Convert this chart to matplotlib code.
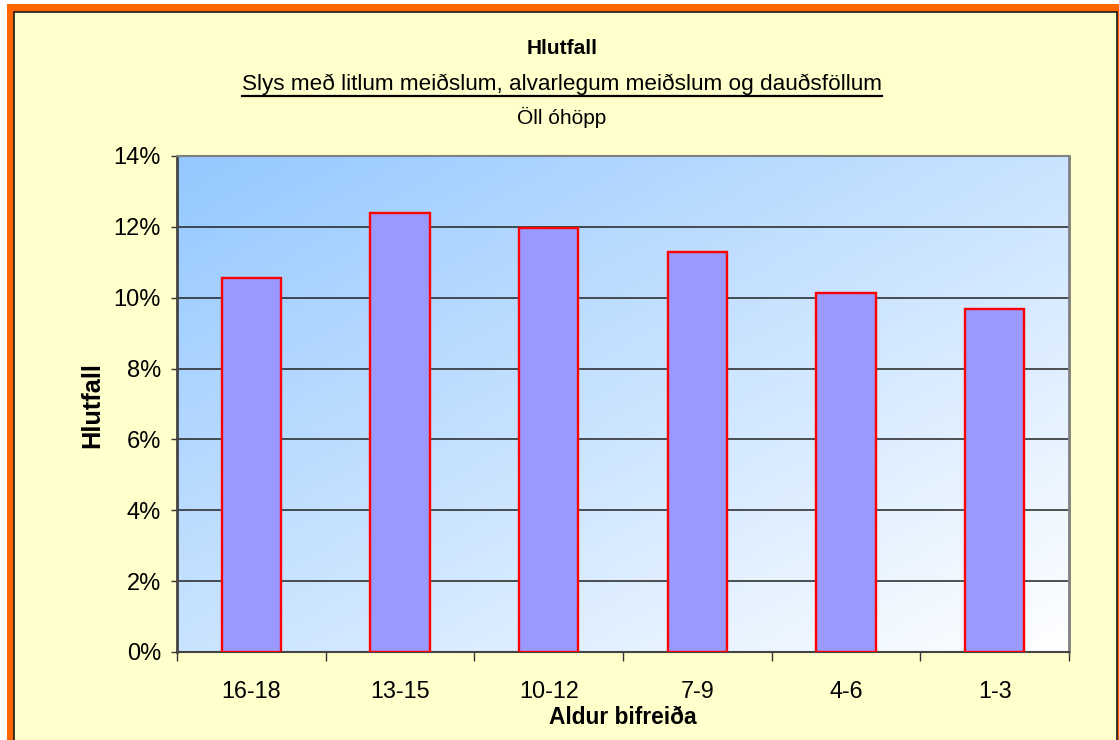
import numpy as np
import matplotlib
matplotlib.use("Agg")
import matplotlib.pyplot as plt
from matplotlib.patches import Rectangle
from matplotlib.lines import Line2D
from matplotlib.ticker import FuncFormatter

# ---- data ----
age_groups = ["16-18", "13-15", "10-12", "7-9", "4-6", "1-3"]
share_pct = [10.57, 12.39, 11.98, 11.30, 10.12, 9.68]
y_ticks = [0, 2, 4, 6, 8, 10, 12, 14]

title = "Hlutfall"
subtitle = "Slys með litlum meiðslum, alvarlegum meiðslum og dauðsföllum"
subsubtitle = "Öll óhöpp"
x_label = "Aldur bifreiða"
y_label = "Hlutfall"

plt.rcParams['font.family'] = ['Liberation Sans', 'DejaVu Sans']

W, H = 1119, 740
fig = plt.figure(figsize=(W / 100, H / 100), dpi=100)
fig.patch.set_facecolor('white')


def px_rect(x0, y0, x1, y1, **kw):
    """Rectangle given in pixel coordinates measured from the top-left corner."""
    return Rectangle((x0 / W, 1 - y1 / H), (x1 - x0) / W, (y1 - y0) / H,
                     transform=fig.transFigure, **kw)


# orange frame with a thin dark inner line and a cream panel
fig.patches.append(px_rect(7, 4, 1125, 760, facecolor='#FF6600',
                           edgecolor='none', zorder=0))
fig.patches.append(px_rect(13.5, 12, 1116.5, 760, facecolor='#FFFFCC',
                           edgecolor='#1a1a1a', linewidth=1.2, zorder=1))

# plot area
ax_l, ax_r, ax_t, ax_b = 177, 1069, 156, 652
ax = fig.add_axes([ax_l / W, 1 - ax_b / H, (ax_r - ax_l) / W, (ax_b - ax_t) / H])
ax.set_zorder(2)

x = np.arange(len(age_groups))

# diagonal gradient background: light blue top-left to white bottom-right
n = 300
u = np.linspace(0, 1, n)[None, :]
v = np.linspace(0, 1, n)[:, None]
t = np.clip((u + v) / 2, 0, 1)
c0 = np.array([148, 200, 255]) / 255
c1 = np.array([255, 255, 255]) / 255
grad = c0[None, None, :] * (1 - t[..., None]) + c1[None, None, :] * t[..., None]
ax.imshow(grad, extent=[-0.5, len(age_groups) - 0.5, 0, 14], origin='upper',
          aspect='auto', zorder=0, interpolation='bilinear')
ax.set_xlim(-0.5, len(age_groups) - 0.5)
ax.set_ylim(0, 14)

ax.bar(x, share_pct, width=0.40, color='#9999FF', edgecolor='#FF0000',
       linewidth=1.7, zorder=3)

# grid and axes styling
ax.set_axisbelow(True)
ax.set_yticks(y_ticks)
ax.yaxis.set_major_formatter(FuncFormatter(lambda val, pos: f"{val:.0f}%"))
ax.yaxis.grid(True, color='#222222', linewidth=1.1)
ax.tick_params(axis='y', length=4.5, width=1.0, pad=7, labelsize=17,
               color='#333333', labelcolor='black')

ax.set_xticks(np.arange(-0.5, len(age_groups), 1))
ax.set_xticklabels([])
ax.set_xticks(x, minor=True)
ax.set_xticklabels(age_groups, minor=True)
ax.tick_params(axis='x', which='major', length=6.5, width=1.0, color='#333333')
ax.tick_params(axis='x', which='minor', length=0, pad=20, labelsize=16.8)

ax.spines['left'].set_color('#444444')
ax.spines['left'].set_linewidth(2.0)
ax.spines['bottom'].set_color('#444444')
ax.spines['bottom'].set_linewidth(1.5)
ax.spines['top'].set_color('#808080')
ax.spines['top'].set_linewidth(1.5)
ax.spines['right'].set_color('#808080')
ax.spines['right'].set_linewidth(2.0)

# axis titles
fig.text(623 / W, 1 - 718 / H, x_label, ha='center', va='center',
         fontsize=16.4, fontweight='bold')
fig.text(92 / W, 1 - 405 / H, y_label, ha='center', va='center',
         rotation=90, fontsize=18.3, fontweight='bold')

# chart titles
cx = 562 / W
fig.text(cx, 1 - 48 / H, title, ha='center', va='center',
         fontsize=15, fontweight='bold')
sub = fig.text(cx, 1 - 84 / H, subtitle, ha='center', va='center',
               fontsize=16.2)
fig.text(cx, 1 - 117 / H, subsubtitle, ha='center', va='center',
         fontsize=15)

# underline the subtitle
fig.canvas.draw()
bb = sub.get_window_extent(renderer=fig.canvas.get_renderer())
uy = 1 - 96 / H
fig.add_artist(Line2D([bb.x0 / W, bb.x1 / W], [uy, uy], transform=fig.transFigure,
                      color='black', linewidth=1.6, zorder=5))

fig.savefig("out.png", dpi=100, facecolor=fig.get_facecolor())
